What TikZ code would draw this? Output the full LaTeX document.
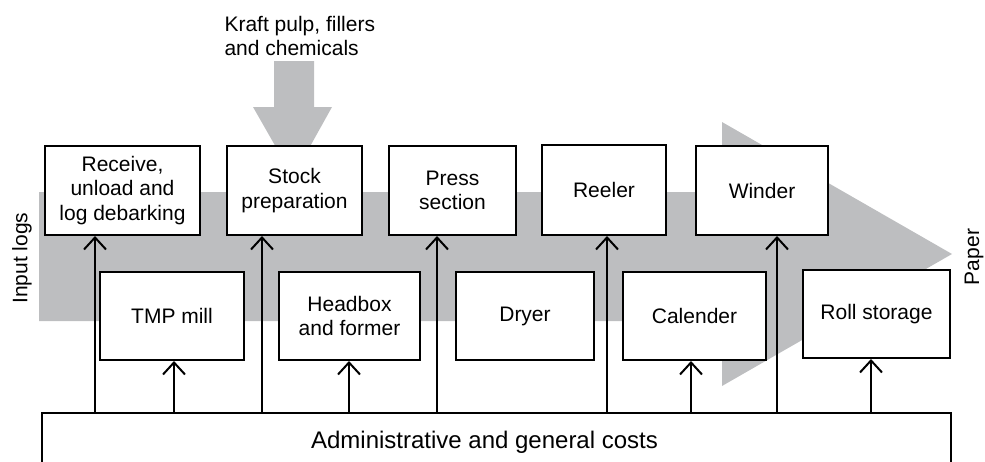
\documentclass[tikz,border=0pt]{standalone}
\usepackage{fontspec}
\setmainfont{Liberation Sans}
\usetikzlibrary{arrows.meta}
\definecolor{flowgray}{RGB}{189,190,192}
\begin{document}
\begin{tikzpicture}[x=1pt,y=-1pt,
  every node/.style={font=\fontsize{21}{24.5}\selectfont},
  box/.style={draw=black,line width=2pt,fill=white,inner sep=0pt,align=center},
  arr/.style={line width=2pt,-{Straight Barb[length=12pt,width=22pt]}}]
\clip (0,0) rectangle (985,461);
% big gray flow arrow
\fill[flowgray] (39,192) -- (722,192) -- (722,122) -- (952,254) -- (722,386) -- (722,321) -- (39,321) -- cycle;
% top input arrow
\fill[flowgray] (274,61) -- (314,61) -- (314,107) -- (332,107) -- (293,177) -- (253,107) -- (274,107) -- cycle;
\node[anchor=west,align=left] (kraft) at (221,36) {Kraft pulp, fillers\\and chemicals};
\node[rotate=90] (inlogs) at (22,258) {Input logs};
\node[rotate=90] (paper) at (974,257) {Paper};
% top row
\node[box,minimum width=155pt,minimum height=89pt] (recv) at (122.5,190.5) {Receive,\\unload and\\log debarking};
\node[box,minimum width=135pt,minimum height=89pt] (stock) at (294.5,190.5) {Stock\\preparation};
\node[box,minimum width=127pt,minimum height=89pt] (press) at (452.5,190.5) {Press\\section};
\node[box,minimum width=124pt,minimum height=90pt] (reeler) at (604,190) {Reeler};
\node[box,minimum width=132pt,minimum height=89pt] (winder) at (762,190.5) {Winder};
% bottom row
\node[box,minimum width=144pt,minimum height=88pt] (tmp) at (172,316) {TMP mill};
\node[box,minimum width=141pt,minimum height=88pt] (head) at (349.5,316) {Headbox\\and former};
\node[box,minimum width=138pt,minimum height=88pt] (dryer) at (525,316) {Dryer};
\node[box,minimum width=143pt,minimum height=88pt] (cal) at (694.5,316) {Calender};
\node[box,minimum width=147pt,minimum height=88pt] (roll) at (876.5,314) {Roll storage};
% admin
\node[box,minimum width=909pt,minimum height=57pt] (adm) at (496.5,441.5) {};
\node[font=\fontsize{24}{28}\selectfont] (admtext) at (484.5,442) {Administrative and general costs};
% connectors
\draw[arr] (adm.north -| 95,0) -- (recv.south -| 95,0);
\draw[arr] (adm.north -| 174,0) -- (tmp.south -| 174,0);
\draw[arr] (adm.north -| 262,0) -- (stock.south -| 262,0);
\draw[arr] (adm.north -| 349,0) -- (head.south -| 349,0);
\draw[arr] (adm.north -| 437,0) -- (press.south -| 437,0);
\draw[arr] (adm.north -| 607,0) -- (reeler.south -| 607,0);
\draw[arr] (adm.north -| 691,0) -- (cal.south -| 691,0);
\draw[arr] (adm.north -| 777,0) -- (winder.south -| 777,0);
\draw[arr] (adm.north -| 871,0) -- (roll.south -| 871,0);
\end{tikzpicture}
\end{document}
